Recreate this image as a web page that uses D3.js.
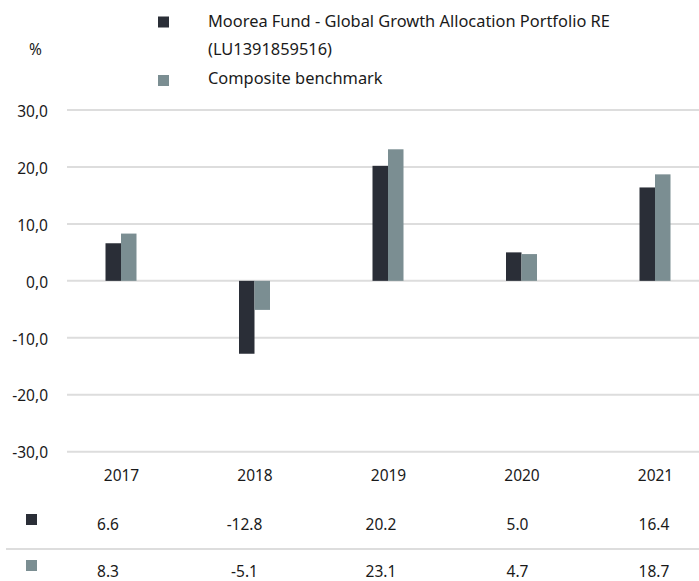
<!DOCTYPE html>
<html>
<head>
<meta charset="utf-8">
<script src="https://cdn.jsdelivr.net/npm/d3@7"></script>
<style>
  html, body { margin: 0; padding: 0; background: #ffffff; }
  svg { display: block; }
  text { font-family: "Noto Sans", "Open Sans", sans-serif; fill: #1a1a1a; }
</style>
</head>
<body>
<svg id="chart" width="699" height="581"></svg>
<script>
const years = ["2017", "2018", "2019", "2020", "2021"];
const fundValues = [6.6, -12.8, 20.2, 5.0, 16.4];
const benchValues = [8.3, -5.1, 23.1, 4.7, 18.7];
const seriesNames = ["Moorea Fund - Global Growth Allocation Portfolio RE", "(LU1391859516)", "Composite benchmark"];
const yTicks = [30, 20, 10, 0, -10, -20, -30];
const colors = { fund: "#2a2e37", bench: "#7b8e92" };

const W = 699, H = 581;
const svg = d3.select("#chart");

const y = d3.scaleLinear().domain([-30, 30]).range([451.7, 110]);
const x = d3.scalePoint().domain(years).range([121, 655]);
const x1 = d3.scaleBand().domain(["fund", "bench"]).range([-15.5, 15.5]);
const xt = d3.scalePoint().domain(years).range([108, 654]);

const fmtTick = d => d.toFixed(1).replace(".", ",");

// gridlines
const gGrid = svg.append("g");
gGrid.selectAll("line").data(yTicks).join("line")
  .attr("x1", 67).attr("x2", W)
  .attr("y1", d => y(d)).attr("y2", d => y(d))
  .attr("stroke", "#dddddd").attr("stroke-width", 2);

const yAxis = d3.axisLeft(y).tickValues(yTicks).tickSize(0).tickPadding(0).tickFormat(fmtTick);
const gy = svg.append("g").attr("transform", "translate(48,0)").call(yAxis);
gy.select(".domain").remove();
gy.selectAll("text").attr("font-family", "Noto Sans").attr("font-size", 15.5)
  .attr("fill", "#1a1a1a").attr("dy", "0.4em");

// "%" label
svg.append("text").attr("x", 29).attr("y", 55).attr("font-size", 15.5).text("%");

// bars
const rows = years.map((yr, i) => ({ yr, fund: fundValues[i], bench: benchValues[i] }));
const gBars = svg.append("g");
["fund", "bench"].forEach(k => {
  gBars.selectAll("rect." + k).data(rows).join("rect")
    .attr("class", k)
    .attr("x", d => x(d.yr) + x1(k))
    .attr("width", x1.bandwidth())
    .attr("y", d => y(Math.max(0, d[k])))
    .attr("height", d => Math.abs(y(d[k]) - y(0)))
    .attr("fill", colors[k]);
});

// x labels
const xAxis = d3.axisBottom(x).tickSize(0).tickPadding(0);
const gx = svg.append("g").attr("transform", "translate(0,481)").call(xAxis);
gx.select(".domain").remove();
gx.selectAll("text").attr("font-family", "Noto Sans").attr("font-size", 15.5)
  .attr("fill", "#1a1a1a").attr("dy", 0);

// legend
const leg = svg.append("g");
leg.append("rect").attr("x", 158).attr("y", 16.5).attr("width", 11).attr("height", 11).attr("fill", colors.fund);
leg.append("rect").attr("x", 158).attr("y", 75).attr("width", 11).attr("height", 11).attr("fill", colors.bench);
leg.selectAll("text").data(seriesNames).join("text")
  .attr("x", 208).attr("y", (d, i) => [26.5, 55, 84][i])
  .attr("font-size", 16.4).text(d => d);

// table
const tbl = svg.append("g");
tbl.append("rect").attr("x", 26).attr("y", 514).attr("width", 11).attr("height", 11).attr("fill", colors.fund);
tbl.append("rect").attr("x", 26).attr("y", 560).attr("width", 11).attr("height", 11).attr("fill", colors.bench);
tbl.append("line").attr("x1", 6).attr("x2", W).attr("y1", 549).attr("y2", 549)
  .attr("stroke", "#dddddd").attr("stroke-width", 2);
tbl.selectAll("text.f").data(rows).join("text").attr("class", "f")
  .attr("x", d => xt(d.yr)).attr("y", 530).attr("text-anchor", "middle")
  .attr("font-size", 15.5).text(d => d.fund.toFixed(1));
tbl.selectAll("text.b").data(rows).join("text").attr("class", "b")
  .attr("x", d => xt(d.yr)).attr("y", 576.5).attr("text-anchor", "middle")
  .attr("font-size", 15.5).text(d => d.bench.toFixed(1));
</script>
</body>
</html>
